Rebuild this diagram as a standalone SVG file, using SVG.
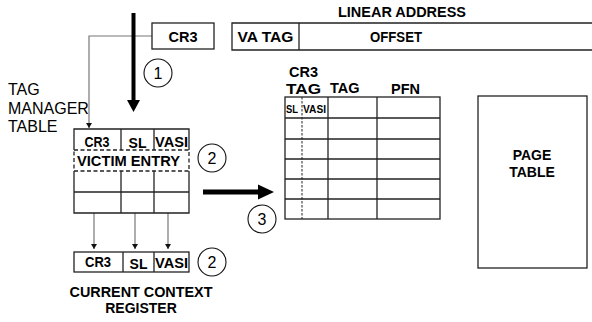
<svg xmlns="http://www.w3.org/2000/svg" width="592" height="322" viewBox="0 0 592 322">
<style>
text{font-family:"Liberation Sans",Arial,sans-serif;fill:#000}
.b{font-weight:bold}
.box{fill:#fff;stroke:#222;stroke-width:1.3}
.ln{stroke:#222;stroke-width:1.3;fill:none}
.dash{stroke:#222;stroke-width:1.3;fill:none;stroke-dasharray:4 2.5}
.conn{stroke:#777;stroke-width:1.2;fill:none}
.circ{fill:#fff;stroke:#111;stroke-width:1.1}
.num{font-size:16px;text-anchor:middle}
</style>
<defs>
<marker id="sm" markerWidth="6" markerHeight="6" refX="5" refY="3" orient="auto" markerUnits="userSpaceOnUse">
<path d="M0,0 L5,3 L0,6 Z" fill="#111"/>
</marker>
</defs>
<rect width="592" height="322" fill="#fff"/>

<g id="connectors">
<path class="conn" d="M152,36 H89 V128" marker-end="url(#sm)"/>
<path class="conn" d="M94,213 V249" marker-end="url(#sm)"/>
<path class="conn" d="M135,213 V249" marker-end="url(#sm)"/>
<path class="conn" d="M168,213 V249" marker-end="url(#sm)"/>
<line x1="133.5" y1="13" x2="133.5" y2="101" stroke="#000" stroke-width="4"/>
<path d="M127,100 L140,100 L133.5,112 Z" fill="#000"/>
<line x1="203" y1="192" x2="259" y2="192" stroke="#000" stroke-width="5"/>
<path d="M258,184.5 L274,192 L258,199.5 Z" fill="#000"/>
</g>

<g id="cr3">
<rect class="box" x="152" y="23" width="62" height="26"/>
<text class="b" x="183" y="41.5" font-size="14.5" text-anchor="middle">CR3</text>
</g>

<g id="linear-address">
<text class="b" x="402" y="17" font-size="14" text-anchor="middle" textLength="128" lengthAdjust="spacingAndGlyphs">LINEAR ADDRESS</text>
<path class="ln" d="M592,23 H232 V50 H592"/>
<line class="ln" x1="299" y1="23" x2="299" y2="50"/>
<text class="b" x="265.5" y="42" font-size="14.5" text-anchor="middle" textLength="56" lengthAdjust="spacingAndGlyphs">VA TAG</text>
<text class="b" x="396" y="42" font-size="14" text-anchor="middle" textLength="52" lengthAdjust="spacingAndGlyphs">OFFSET</text>
</g>

<g id="step1">
<circle class="circ" cx="158" cy="73" r="14"/>
<text class="num" x="158" y="78.5">1</text>
</g>

<g id="tag-manager-label">
<text x="8" y="95" font-size="16">TAG</text>
<text x="8" y="114" font-size="16">MANAGER</text>
<text x="8" y="132" font-size="16">TABLE</text>
</g>

<g id="tag-manager-table">
<rect x="74" y="129" width="115" height="84" fill="#fff"/>
<path class="ln" d="M74,150 V129 H189 V150"/>
<line class="ln" x1="121" y1="129" x2="121" y2="150"/>
<line class="ln" x1="154" y1="129" x2="154" y2="150"/>
<rect class="dash" x="74" y="150" width="115" height="21"/>
<path class="ln" d="M74,171 V213 H189 V171"/>
<line class="ln" x1="74" y1="192" x2="189" y2="192"/>
<line class="ln" x1="121" y1="171" x2="121" y2="213"/>
<line class="ln" x1="154" y1="171" x2="154" y2="213"/>
<text class="b" x="97" y="146.5" font-size="14" text-anchor="middle" textLength="25" lengthAdjust="spacingAndGlyphs">CR3</text>
<text class="b" x="137.5" y="147.5" font-size="14" text-anchor="middle">SL</text>
<text class="b" x="171.5" y="146.5" font-size="14" text-anchor="middle" textLength="33" lengthAdjust="spacingAndGlyphs">VASI</text>
<text class="b" x="128.5" y="166" font-size="14" text-anchor="middle" textLength="103" lengthAdjust="spacingAndGlyphs">VICTIM ENTRY</text>
</g>

<g id="step2a">
<circle class="circ" cx="212" cy="158" r="14"/>
<text class="num" x="212" y="163.5">2</text>
</g>

<g id="ccr">
<rect class="box" x="74" y="252" width="115" height="20"/>
<line class="ln" x1="123" y1="252" x2="123" y2="272"/>
<line class="ln" x1="154" y1="252" x2="154" y2="272"/>
<text class="b" x="98" y="267" font-size="14" text-anchor="middle" textLength="26" lengthAdjust="spacingAndGlyphs">CR3</text>
<text class="b" x="138.5" y="268.5" font-size="14" text-anchor="middle">SL</text>
<text class="b" x="171.5" y="268" font-size="14" text-anchor="middle" textLength="33" lengthAdjust="spacingAndGlyphs">VASI</text>
<text class="b" x="141" y="297" font-size="14" text-anchor="middle" textLength="143" lengthAdjust="spacingAndGlyphs">CURRENT CONTEXT</text>
<text class="b" x="141" y="313" font-size="14" text-anchor="middle">REGISTER</text>
</g>

<g id="step2b">
<circle class="circ" cx="212" cy="262" r="14"/>
<text class="num" x="212" y="267.5">2</text>
</g>

<g id="step3">
<circle class="circ" cx="262" cy="219" r="14"/>
<text class="num" x="262" y="224.5">3</text>
</g>

<g id="tlb">
<text class="b" x="289" y="77" font-size="14.5">CR3</text>
<text class="b" x="286" y="94" font-size="14.5" textLength="35" lengthAdjust="spacingAndGlyphs">TAG</text>
<text class="b" x="330" y="93" font-size="14.5">TAG</text>
<text class="b" x="391" y="94" font-size="14.5">PFN</text>
<rect class="box" x="285" y="97" width="155" height="122"/>
<line class="ln" x1="285" y1="118" x2="440" y2="118"/>
<line class="ln" x1="285" y1="139" x2="440" y2="139"/>
<line class="ln" x1="285" y1="159" x2="440" y2="159"/>
<line class="ln" x1="285" y1="179" x2="440" y2="179"/>
<line class="ln" x1="285" y1="199" x2="440" y2="199"/>
<line class="ln" x1="328" y1="97" x2="328" y2="219"/>
<line class="ln" x1="377" y1="97" x2="377" y2="219"/>
<line x1="302" y1="97" x2="302" y2="219" stroke="#222" stroke-width="1" stroke-dasharray="2.5 1.5"/>
<text class="b" x="286" y="113" font-size="10" textLength="12" lengthAdjust="spacingAndGlyphs">SL</text>
<text class="b" x="303" y="113" font-size="10" textLength="23" lengthAdjust="spacingAndGlyphs">VASI</text>
</g>

<g id="page-table">
<rect class="box" x="478" y="96" width="109" height="172"/>
<text class="b" x="532" y="160" font-size="14" text-anchor="middle">PAGE</text>
<text class="b" x="532" y="177" font-size="14" text-anchor="middle">TABLE</text>
</g>
</svg>
